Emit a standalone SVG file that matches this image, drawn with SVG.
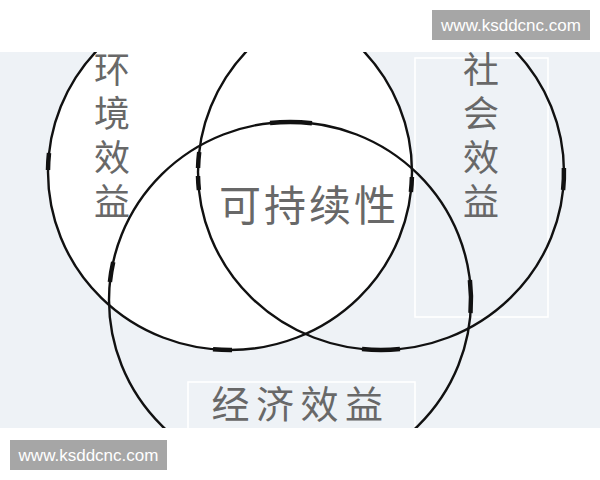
<svg xmlns="http://www.w3.org/2000/svg" width="600" height="480" viewBox="0 0 600 480">
  <style>
    .ring { fill: none; stroke: #111; stroke-width: 2.4; }
    .thick { fill: none; stroke: #111; stroke-width: 4.5; stroke-linecap: butt; }
    .lbl { font-family: "Noto Sans CJK SC", "Noto Sans", sans-serif; fill: #686868; }
    .vlbl { writing-mode: vertical-rl; font-size: 36px; letter-spacing: 8px; }
    .frame { fill: none; stroke: #ffffff; stroke-width: 1.6; }
    .wm { fill: #a6a6a6; }
    .wmt { font-family: "Liberation Sans", Arial, sans-serif; font-size: 17px; fill: #ffffff; text-anchor: middle; }
  </style>
  <rect x="0" y="0" width="600" height="480" fill="#ffffff"/>
  <rect x="0" y="52" width="600" height="376" fill="#eef2f6"/>
  <defs>
    <clipPath id="band"><rect x="0" y="52" width="600" height="376"/></clipPath>
  </defs>

  <g id="frames">
    <rect class="frame" x="415" y="58" width="133" height="259"/>
    <rect class="frame" x="188" y="382" width="227" height="60"/>
  </g>

  <g clip-path="url(#band)">
    <g id="env">
      <ellipse cx="230" cy="172" rx="182" ry="178" fill="#ffffff"/>
    </g>
    <g id="env-ring">
      <ellipse class="ring" cx="230" cy="172" rx="182" ry="178"/>
      <path class="thick" d="M49,153 A182,178 0 0,0 48,170"/>
      <path class="thick" d="M213,349.2 A182,178 0 0,0 232,350"/>
      <path class="thick" d="M411.9,177 A182,178 0 0,1 410.9,192"/>
    </g>
    <g id="social">
      <ellipse class="ring" cx="381" cy="172" rx="183" ry="178"/>
      <path class="thick" d="M199.2,152 A183,178 0 0,0 198.05,168"/>
      <path class="thick" d="M198,176 A183,178 0 0,0 198.9,190"/>
      <path class="thick" d="M563.9,168 A183,178 0 0,1 563.1,190"/>
      <path class="thick" d="M362,349 A183,178 0 0,0 400,349"/>
    </g>
    <g id="economic">
      <ellipse class="ring" cx="290" cy="300" rx="181" ry="178"/>
      <path class="thick" d="M270,123.1 A181,178 0 0,1 312,123.3"/>
      <path class="thick" d="M113.2,262 A181,178 0 0,0 109.9,282"/>
      <path class="thick" d="M469.9,280 A181,178 0 0,1 470.5,313"/>
    </g>
  </g>

  <g id="label-env">
    <text class="lbl vlbl" x="112" y="51">环境效益</text>
  </g>
  <g id="label-social">
    <text class="lbl vlbl" x="481" y="51">社会效益</text>
  </g>
  <g id="label-core">
    <text class="lbl" x="309" y="221" font-size="42" letter-spacing="3" text-anchor="middle">可持续性</text>
  </g>
  <g id="label-economic">
    <text class="lbl" x="300.5" y="418" font-size="38" letter-spacing="6.5" text-anchor="middle">经济效益</text>
  </g>

  <g id="watermark-top">
    <rect class="wm" x="432" y="10" width="158" height="30"/>
    <text class="wmt" x="511" y="31">www.ksddcnc.com</text>
  </g>
  <g id="watermark-bottom">
    <rect class="wm" x="10" y="440" width="157" height="30"/>
    <text class="wmt" x="88.5" y="461">www.ksddcnc.com</text>
  </g>
</svg>
